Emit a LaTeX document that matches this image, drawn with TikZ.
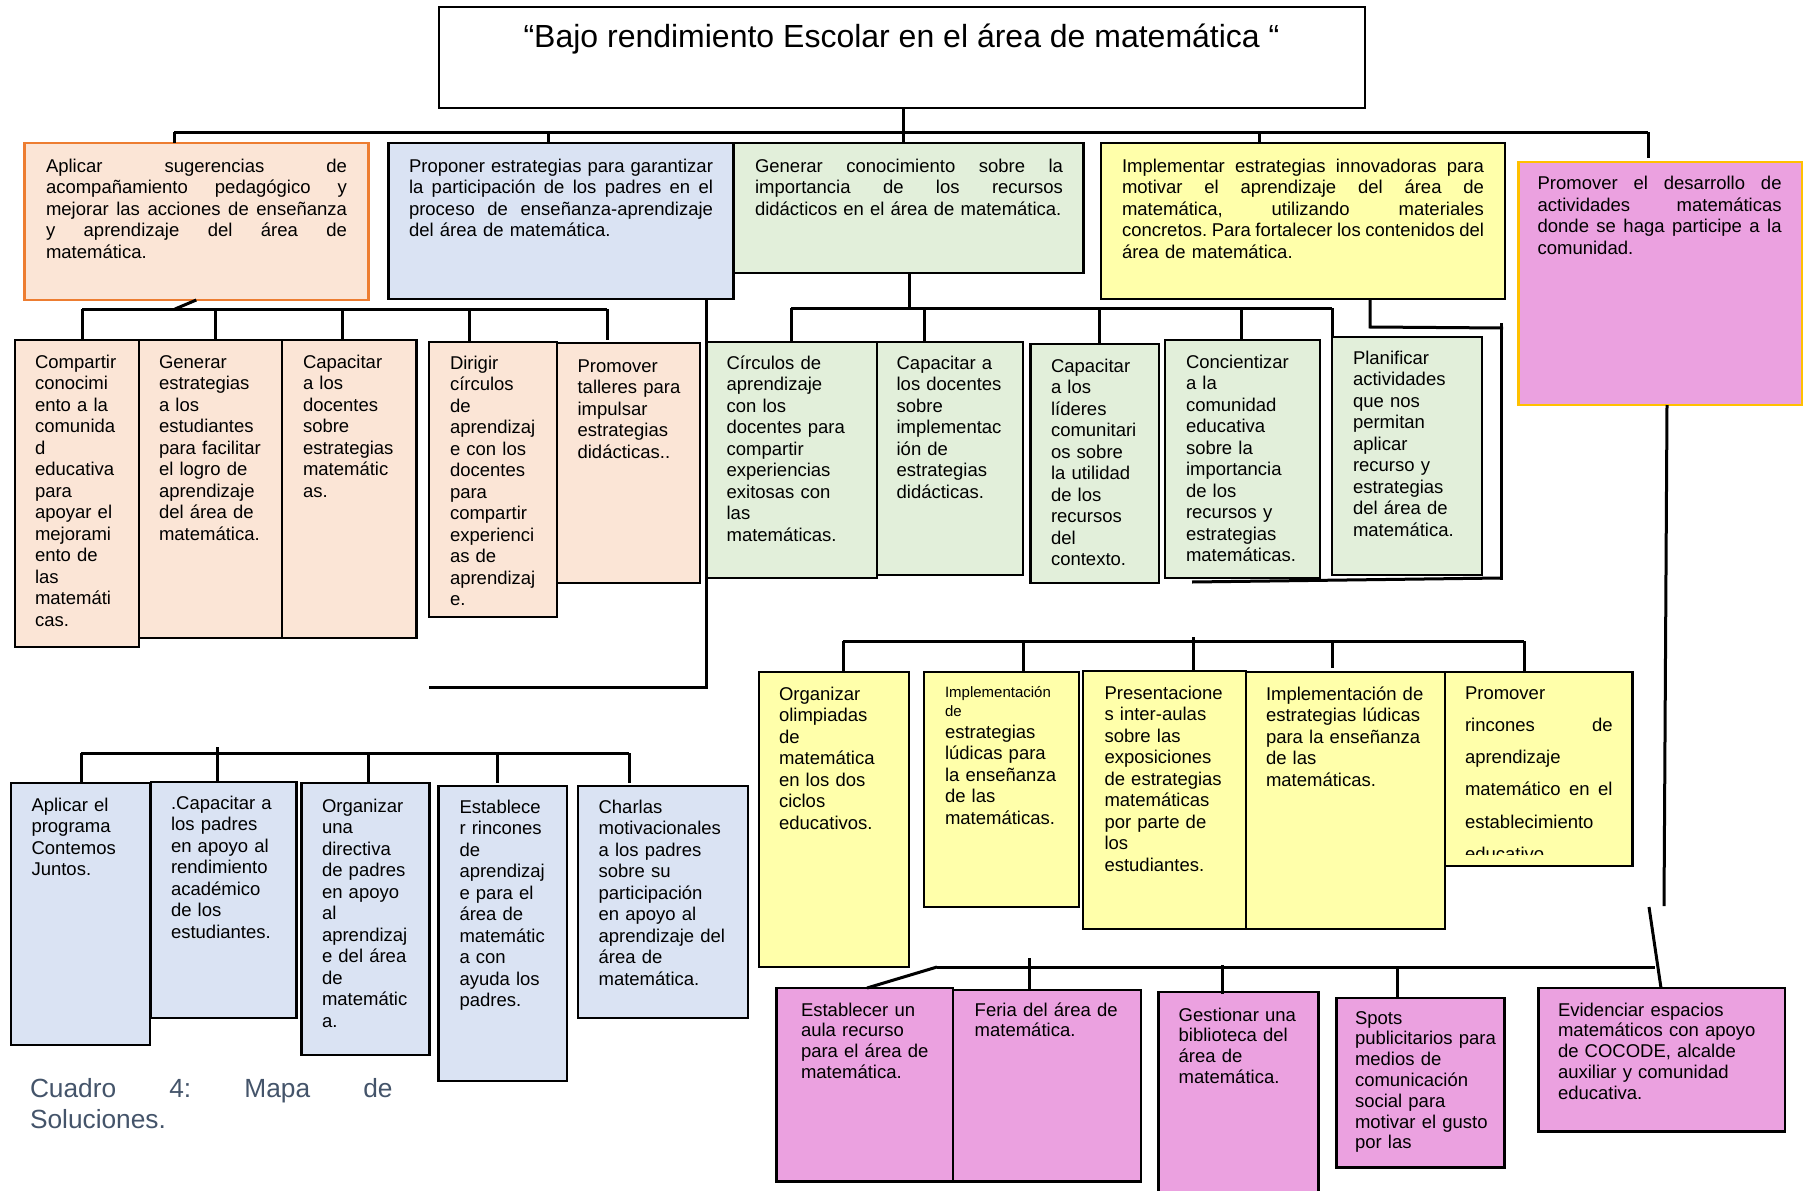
\documentclass[tikz,border=0pt]{standalone}
\usepackage{fontspec}
\setmainfont{Liberation Sans}
\frenchspacing
\definecolor{peach}{HTML}{FBE5D6}
\definecolor{orangeb}{HTML}{ED7D31}
\definecolor{lblue}{HTML}{DAE3F3}
\definecolor{lgreen}{HTML}{E2EFDA}
\definecolor{lyellow}{HTML}{FFFFAA}
\definecolor{lpink}{HTML}{EBA1E0}
\definecolor{goldb}{HTML}{FFC000}
\definecolor{capcol}{HTML}{44546A}
\tikzset{
 box/.style={draw=black, line width=2.5pt, inner sep=0pt, outer sep=0pt},
 conn/.style={draw=black, line width=3pt},
 txt/.style={inner sep=0pt, outer sep=0pt, align=left, text width=#1, anchor=base west,
   font=\fontsize{18.5pt}{21.5pt}\selectfont},
 txt/.default=300pt,
 ptxt/.style={txt, font=\fontsize{18.5pt}{20.8pt}\selectfont},
}
\newcommand\mybx[6]{\node[box,#2,anchor=north west,minimum width={(#5)-(#3)},minimum height={(#6)-(#4)}] (#1) at (#3,#4) {};}
\newcommand\myjl[2]{\leavevmode\hbox to #1{\spaceskip=0.278em plus 1fil minus 0.08em\relax\xspaceskip=\spaceskip #2}}
\begin{document}
\begin{tikzpicture}[x=1pt,y=-1pt]
\useasboundingbox (0,0) rectangle (1805,1191);
\fill[white] (0,0) rectangle (1805,1191);
\clip (0,0) rectangle (1805,1191);

% ---------- boxes ----------
\mybx{title}{fill=white}{439}{7}{1365}{108}
\mybx{a1}{fill=peach,draw=orangeb}{24.7}{143}{368.5}{300}
\mybx{a2}{fill=lblue}{388.6}{143}{733.6}{299}
\mybx{a3}{fill=lgreen}{733.6}{143}{1083.5}{273}
\mybx{a4}{fill=lyellow}{1101}{143}{1505}{299}
\mybx{a5}{fill=lpink,draw=goldb}{1518.6}{162}{1802}{405}

\mybx{b1}{fill=peach}{15}{340}{139}{647}
\mybx{b2}{fill=peach}{139}{340}{282}{638}
\mybx{b3}{fill=peach}{282}{340}{416.5}{638}
\mybx{b4}{fill=peach}{429}{342}{557}{617}
\mybx{b5}{fill=peach}{557}{343}{700}{583}

\mybx{c1}{fill=lgreen}{707}{342}{877}{578}
\mybx{c2}{fill=lgreen}{877}{342}{1023}{575}
\mybx{c3}{fill=lgreen}{1030.5}{344}{1159}{583}
\mybx{c4}{fill=lgreen}{1165}{340}{1320}{578}
\mybx{c5}{fill=lgreen}{1332}{337}{1482}{575}

\mybx{d1}{fill=lyellow}{759}{672}{909}{967}
\mybx{d2}{fill=lyellow}{924}{672}{1079}{907}
\mybx{d3}{fill=lyellow}{1083}{671}{1246}{929}
\mybx{d4}{fill=lyellow}{1246}{672}{1445}{929}
\mybx{d5}{fill=lyellow}{1445}{672}{1632.6}{866}

\mybx{e1}{fill=lpink}{776.7}{988}{953}{1181.7}
\mybx{e2}{fill=lpink}{953}{990}{1141}{1181.7}
\mybx{e3}{fill=lpink}{1158.7}{992}{1318.7}{1205}
\mybx{e4}{fill=lpink}{1336.7}{998}{1504.7}{1167.7}
\mybx{e5}{fill=lpink}{1538.7}{988}{1785}{1131.7}

\mybx{f1}{fill=lblue}{11}{783}{150}{1045}
\mybx{f2}{fill=lblue}{151}{782}{296.6}{1018}
\mybx{f3}{fill=lblue}{301.5}{783}{429.5}{1055}
\mybx{f4}{fill=lblue}{438.7}{786}{567}{1081}
\mybx{f5}{fill=lblue}{577.8}{786}{748}{1018}

% ---------- connectors ----------
\draw[conn] (903,0 |- title.south) -- (903,132);
\draw[conn] (174,132) -- (1648,132);
\draw[conn] (174,132) -- (174,0 |- a1.north);
\draw[conn] (548,132) -- (548,0 |- a2.north);
\draw[conn] (903,132) -- (903,0 |- a3.north);
\draw[conn] (1259,132) -- (1259,0 |- a4.north);
\draw[conn] (1648,132) -- (1648,158);

\draw[conn] (196.3,0 |- a1.south) -- (175,309);
\draw[conn] (82,309) -- (607,309);
\draw[conn] (82,309) -- (82,0 |- b1.north);
\draw[conn] (215,309) -- (215,0 |- b2.north);
\draw[conn] (342,309) -- (342,0 |- b3.north);
\draw[conn] (469,309) -- (469,0 |- b4.north);
\draw[conn] (607,309) -- (607,340);

\draw[conn] (706,0 |- a2.south) -- (706,687) -- (429,687);

\draw[conn] (81,753) -- (629,753);
\draw[conn] (81,753) -- (81,0 |- f1.north);
\draw[conn] (217,747) -- (217,0 |- f2.north);
\draw[conn] (368,753) -- (368,0 |- f3.north);
\draw[conn] (497,753) -- (497,783);
\draw[conn] (629,753) -- (629,783);

\draw[conn] (909,0 |- a3.south) -- (909,308);
\draw[conn] (791,308) -- (1332,308);
\draw[conn] (791,308) -- (791,0 |- c1.north);
\draw[conn] (924,308) -- (924,0 |- c2.north);
\draw[conn] (1099.5,308) -- (1099.5,0 |- c3.north);
\draw[conn] (1241,308) -- (1241,0 |- c4.north);
\draw[conn] (1332,308) -- (1332,0 |- c5.north);

\draw[conn] (1370,0 |- a4.south) -- (1370,327) -- (1503,328);
\draw[conn] (1501,323) -- (1501,580);
\draw[conn] (1192,582) -- (1501,578);

\draw[conn] (843,641) -- (1524,641);
\draw[conn] (843,641) -- (843,0 |- d1.north);
\draw[conn] (1023,641) -- (1023,0 |- d2.north);
\draw[conn] (1193.5,637) -- (1193.5,0 |- d3.north);
\draw[conn] (1332,641) -- (1332,668);
\draw[conn] (1524,641) -- (1524,0 |- d5.north);

\draw[conn] (1667,0 |- a5.south) -- (1664,906);
\draw[conn] (1649,907) -- (1661,0 |- e5.north);
\draw[conn] (937,967) -- (1655,967);
\draw[conn] (937,967) -- (867,0 |- e1.north);
\draw[conn] (1029,958) -- (1029,0 |- e2.north);
\draw[conn] (1222,965) -- (1222,994);
\draw[conn] (1397,969) -- (1397,0 |- e4.north);

% ---------- texts ----------
\node[inner sep=0pt, anchor=base, font=\fontsize{32pt}{36pt}\selectfont] (titlet) at (901.5,47) {“Bajo rendimiento Escolar en el área de matemática “};

\node[txt=320pt] (a1t) at (46,172) {\myjl{301pt}{Aplicar sugerencias de}\\\myjl{301pt}{acompañamiento pedagógico y}\\\myjl{301pt}{mejorar las acciones de enseñanza}\\\myjl{301pt}{y aprendizaje del área de}\\matemática.};
\node[txt=320pt] (a2t) at (409,172) {\myjl{304pt}{Proponer estrategias para garantizar}\\\myjl{304pt}{la participación de los padres en el}\\\myjl{304pt}{proceso de enseñanza-aprendizaje}\\del área de matemática.};
\node[txt=320pt] (a3t) at (755,172) {\myjl{308pt}{Generar conocimiento sobre la}\\\myjl{308pt}{importancia de los recursos}\\didácticos en el área de matemática.};
\node[txt=380pt] (a4t) at (1122,172) {\myjl{362pt}{Implementar estrategias innovadoras para}\\\myjl{362pt}{motivar el aprendizaje del área de}\\\myjl{362pt}{matemática, utilizando materiales}\\\myjl{362pt}{concretos. Para fortalecer los contenidos del}\\área de matemática.};
\node[txt=260pt] (a5t) at (1537.6,189.5) {\myjl{244pt}{Promover el desarrollo de}\\\myjl{244pt}{actividades matemáticas}\\\myjl{244pt}{donde se haga participe a la}\\comunidad.};

\node[txt] (b1t) at (35,368) {Compartir\\conocimi\\ento a la\\comunida\\d\\educativa\\para\\apoyar el\\mejorami\\ento de\\las\\matemáti\\cas.};
\node[txt] (b2t) at (159,368) {Generar\\estrategias\\a los\\estudiantes\\para facilitar\\el logro de\\aprendizaje\\del área de\\matemática.};
\node[txt] (b3t) at (303,368) {Capacitar\\a los\\docentes\\sobre\\estrategias\\matemátic\\as.};
\node[txt] (b4t) at (450,369) {Dirigir\\círculos\\de\\aprendizaj\\e con los\\docentes\\para\\compartir\\experienci\\as de\\aprendizaj\\e.};
\node[txt] (b5t) at (577.6,372) {Promover\\talleres para\\impulsar\\estrategias\\didácticas..};

\node[txt] (c1t) at (726.6,369) {Círculos de\\aprendizaje\\con los\\docentes para\\compartir\\experiencias\\exitosas con\\las\\matemáticas.};
\node[txt] (c2t) at (896.6,369) {Capacitar a\\los docentes\\sobre\\implementac\\ión de\\estrategias\\didácticas.};
\node[txt] (c3t) at (1051,372) {Capacitar\\a los\\líderes\\comunitari\\os sobre\\la utilidad\\de los\\recursos\\del\\contexto.};
\node[txt] (c4t) at (1186,368) {Concientizar\\a la\\comunidad\\educativa\\sobre la\\importancia\\de los\\recursos y\\estrategias\\matemáticas.};
\node[txt] (c5t) at (1353,364) {Planificar\\actividades\\que nos\\permitan\\aplicar\\recurso y\\estrategias\\del área de\\matemática.};

\node[txt] (d1t) at (779,700) {Organizar\\olimpiadas\\de\\matemática\\en los dos\\ciclos\\educativos.};
\node[txt, font=\fontsize{15pt}{19pt}\selectfont] (d2s) at (945,697) {Implementación\\de};
\node[txt] (d2t) at (945,738) {estrategias\\lúdicas para\\la enseñanza\\de las\\matemáticas.};
\node[txt] (d3t) at (1104.5,699) {Presentacione\\s inter-aulas\\sobre las\\exposiciones\\de estrategias\\matemáticas\\por parte de\\los\\estudiantes.};
\node[txt] (d4t) at (1266,700) {Implementación de\\estrategias lúdicas\\para la enseñanza\\de las\\matemáticas.};
\begin{scope}
\clip (1445,672) rectangle (1633,854);
\node[txt, font=\fontsize{18.5pt}{32.3pt}\selectfont] (d5t) at (1465,699) {Promover\\\myjl{147.6pt}{rincones de}\\aprendizaje\\\myjl{147.6pt}{matemático en el}\\establecimiento\\educativo};
\end{scope}

\node[ptxt] (e1t) at (801,1016) {Establecer un\\aula recurso\\para el área de\\matemática.};
\node[ptxt] (e2t) at (974.7,1016) {Feria del área de\\matemática.};
\node[ptxt] (e3t) at (1178.7,1021) {Gestionar una\\biblioteca del\\área de\\matemática.};
\node[ptxt] (e4t) at (1355,1024) {Spots\\publicitarios para\\medios de\\comunicación\\social para\\motivar el gusto\\por las};
\node[ptxt] (e5t) at (1558,1016) {Evidenciar espacios\\matemáticos con apoyo\\de COCODE, alcalde\\auxiliar y comunidad\\educativa.};

\node[txt] (f1t) at (31.5,811) {Aplicar el\\programa\\Contemos\\Juntos.};
\node[txt] (f2t) at (171,809) {.Capacitar a\\los padres\\en apoyo al\\rendimiento\\académico\\de los\\estudiantes.};
\node[txt] (f3t) at (322,812) {Organizar\\una\\directiva\\de padres\\en apoyo\\al\\aprendizaj\\e del área\\de\\matemátic\\a.};
\node[txt] (f4t) at (459.5,813) {Establece\\r rincones\\de\\aprendizaj\\e para el\\área de\\matemátic\\a con\\ayuda los\\padres.};
\node[txt] (f5t) at (598.6,813) {Charlas\\motivacionales\\a los padres\\sobre su\\participación\\en apoyo al\\aprendizaje del\\área de\\matemática.};

\node[txt=380pt, text=capcol, font=\fontsize{26.3pt}{31pt}\selectfont] (capt) at (30,1097) {\myjl{362.6pt}{Cuadro 4: Mapa de}\\Soluciones.};
\end{tikzpicture}
\end{document}
